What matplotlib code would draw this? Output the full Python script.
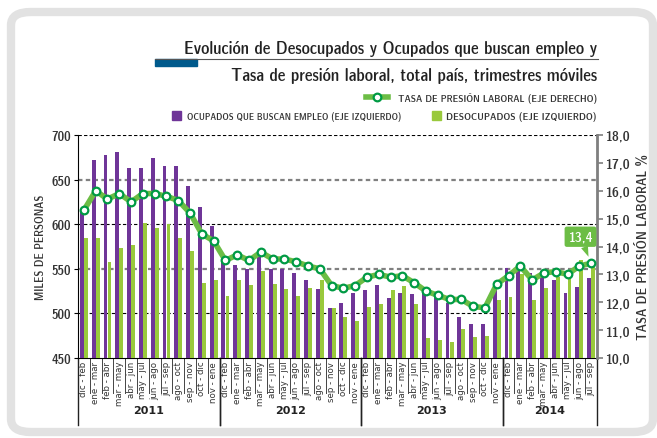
import numpy as np
import matplotlib.pyplot as plt
from matplotlib import font_manager
from matplotlib.patches import FancyBboxPatch, Rectangle
from matplotlib.lines import Line2D
from matplotlib.ticker import FuncFormatter

# trimestres moviles
periodos = ['dic - feb', 'ene - mar', 'feb - abr', 'mar - may', 'abr - jun', 'may - jul',
            'jun - ago', 'jul - sep', 'ago - oct', 'sep - nov', 'oct - dic', 'nov - ene']
etiquetas = periodos * 3 + periodos[:8]
anios = ['2011', '2012', '2013', '2014']
n_por_anio = [12, 12, 12, 8]

# miles de personas (eje izquierdo)
ocupados_buscan = [617, 672, 678, 681, 663, 663, 674, 665, 665, 643, 619, 598,
                   558, 554, 550, 563, 550, 550, 545, 537, 527, 506, 512, 523,
                   526, 532, 517, 523, 522, 524, 519, 512, 496, 488, 488, 533,
                   551, 551, 545, 547, 538, 523, 530, 540]
desocupados = [585, 584, 558, 573, 577, 601, 596, 600, 584, 570, 534, 538,
               519, 538, 532, 548, 533, 527, 520, 529, 537, 506, 496, 491,
               507, 511, 526, 531, 510, 472, 470, 468, 482, 474, 475, 515,
               518, 544, 515, 528, 541, 541, 560, 554]
# tasa de presion laboral % (eje derecho)
tasa = [15.3, 16.0, 15.7, 15.9, 15.6, 15.9, 15.9, 15.8, 15.65, 15.2, 14.45, 14.2,
        13.5, 13.7, 13.5, 13.8, 13.55, 13.55, 13.45, 13.3, 13.2, 12.6, 12.5, 12.6,
        12.9, 13.0, 12.9, 12.95, 12.7, 12.4, 12.25, 12.1, 12.1, 11.85, 11.8, 12.65,
        12.95, 13.3, 12.8, 13.05, 13.1, 13.0, 13.3, 13.4]

morado = '#6f3598'
verde_barra = '#99c93c'
verde_linea = '#6cbd45'
verde_osc = '#009a44'

# buscar una fuente angosta entre las instaladas
narrow = None
for f in font_manager.fontManager.ttflist:
    nm = f.name.lower()
    st = f.stretch
    angosta = ('narrow' in nm or 'condensed' in nm or
               st in ('condensed', 'semi-condensed', 'extra-condensed', 'ultra-condensed') or
               (isinstance(st, int) and st < 100))
    if angosta:
        if 'narrow' in nm or 'condensed' in nm:
            narrow = dict(family=[f.name, 'DejaVu Sans'])
        else:
            narrow = dict(family=[f.name, 'DejaVu Sans'], fontstretch='condensed')
        if 'liberation' in nm or 'noto' in nm:
            break
if narrow is None:
    narrow = dict(family=['Roboto', 'DejaVu Sans'])

fig = plt.figure(figsize=(6.57, 4.39), dpi=100)

# marco gris redondeado
marco = FancyBboxPatch((11/657, 6/439), 642/657, 420/439,
                       boxstyle='round,pad=0,rounding_size=0.03',
                       transform=fig.transFigure, fc='white', ec='#e2e2e2', lw=6, zorder=-10)
fig.patches.append(marco)

ax = fig.add_axes([78/657, 80/439, 519/657, 223/439])
ax2 = ax.twinx()
ax2.set_zorder(ax.get_zorder() + 1)
ax.patch.set_visible(False)
ax2.patch.set_visible(False)

x = np.arange(len(etiquetas))
w = 0.33
ax.bar(x - 0.17, ocupados_buscan, w, color=morado, zorder=3)
ax.bar(x + 0.17, desocupados, w, color=verde_barra, zorder=3)

ax.set_ylim(450, 700)
ax.set_xlim(-0.5, len(etiquetas) - 0.5)
ax.set_yticks([450, 500, 550, 600, 650, 700])
for v in [700, 600, 500]:
    ax.axhline(v, color='black', lw=0.8, ls=(0, (3, 2)), zorder=1)
for v in [650, 550]:
    ax.axhline(v, color='#808080', lw=1.6, ls=(0, (2, 1.5)), zorder=1)

ax2.plot(x, tasa, color=verde_linea, lw=4, solid_capstyle='round', zorder=4)
ax2.plot(x, tasa, 'o', ms=5.5, mfc='white', mec=verde_osc, mew=1.6, zorder=5)
ax2.set_ylim(10, 18)
ax2.set_yticks(np.arange(10, 18.5, 1))
ax2.yaxis.set_major_formatter(FuncFormatter(lambda v, p: f'{v:.1f}'.replace('.', ',')))

ax2.annotate('13,4', xy=(x[-1], tasa[-1]), xytext=(x[-1] - 0.9, 14.35),
             ha='center', va='center', color='white', fontsize=10.5, fontweight='bold',
             bbox=dict(boxstyle='round,pad=0.25,rounding_size=0.15', fc=verde_linea, ec='none'),
             arrowprops=dict(arrowstyle='wedge,tail_width=0.5', fc=verde_linea, ec='none',
                             shrinkA=0, shrinkB=5), **narrow)

# ejes
ax.spines['top'].set_visible(False)
ax2.spines['top'].set_visible(False)
ax2.spines['left'].set_visible(False)
ax2.spines['bottom'].set_visible(False)
ax.spines['right'].set_visible(False)
ax2.spines['right'].set_color('#7f7f7f')
ax2.spines['right'].set_linewidth(2)

ax.tick_params(axis='y', length=3, labelsize=10, pad=2)
ax2.tick_params(axis='y', length=4, width=1.2, color='#7f7f7f', labelsize=10.5, pad=2)
for t in ax.get_yticklabels() + ax2.get_yticklabels():
    t.set(color='#333333', **narrow)

ax.set_xticks(x)
ax.set_xticklabels(etiquetas, rotation=90, fontsize=6.2, color='#333333')
ax.tick_params(axis='x', length=0, pad=2)

ax.set_ylabel('MILES DE PERSONAS', fontsize=8, color='#333333', labelpad=4, **narrow)
ax2.set_ylabel('TASA DE PRESIÓN LABORAL %', fontsize=9.5, color='#333333', labelpad=4, **narrow)

# separadores del eje x
trans = ax.get_xaxis_transform()
for i in range(len(etiquetas) + 1):
    ax.plot([i - 0.5, i - 0.5], [0, -0.155], color='#444444', lw=0.7,
            transform=trans, clip_on=False)
inicio = 0
for anio, n in zip(anios, n_por_anio):
    for b in [inicio - 0.5, inicio + n - 0.5]:
        ax.plot([b, b], [0, -0.3], color='#222222', lw=1, transform=trans, clip_on=False)
    ax.text(inicio + n / 2 - 0.5, -0.232, anio, transform=trans, ha='center', va='center',
            fontsize=8, fontweight='bold', color='#222222')
    inicio += n

# titulo
t1 = fig.text(597/657, 1 - 49/439, 'Evolución de Desocupados y Ocupados que buscan empleo y',
              ha='right', va='center', fontsize=13, fontweight='bold', color='#222222', **narrow)
t2 = fig.text(597/657, 1 - 76/439, 'Tasa de presión laboral, total país, trimestres móviles',
              ha='right', va='center', fontsize=13, fontweight='bold', color='#222222', **narrow)
fig.add_artist(Line2D([155/657, 598/657], [1 - 60/439, 1 - 60/439], color='#555555', lw=0.8))
fig.add_artist(Rectangle((155/657, 1 - 67/439), 42/657, 7/439, color='#005a8c'))

# leyenda
fig.add_artist(Line2D([366/657, 388/657], [1 - 98/439, 1 - 98/439], color=verde_linea, lw=4))
fig.add_artist(Line2D([377/657], [1 - 98/439], marker='o', ms=5.5, mfc='white', mec=verde_osc, mew=1.6))
l1 = fig.text(597/657, 1 - 98/439, 'TASA DE PRESIÓN LABORAL (EJE DERECHO)', ha='right', va='center',
              fontsize=7, color='#333333', **narrow)
fig.add_artist(Rectangle((172/657, 1 - 121/439), 9/657, 9/439, color=morado))
l2 = fig.text(187/657, 1 - 117/439, 'OCUPADOS QUE BUSCAN EMPLEO (EJE IZQUIERDO)', ha='left', va='center',
              fontsize=7, color='#333333', **narrow)
fig.add_artist(Rectangle((432/657, 1 - 121/439), 9/657, 9/439, color=verde_barra))
l3 = fig.text(597/657, 1 - 117/439, 'DESOCUPADOS (EJE IZQUIERDO)', ha='right', va='center',
              fontsize=7, color='#333333', **narrow)

# ajustar tamaños al ancho del original
r = fig.canvas.get_renderer()
for t, ancho in [(t1, 414), (t2, 367), (l1, 199), (l2, 213), (l3, 149)]:
    wpx = t.get_window_extent(r).width
    t.set_fontsize(t.get_fontsize() * ancho / wpx)

fig.savefig('out.png', dpi=100)
